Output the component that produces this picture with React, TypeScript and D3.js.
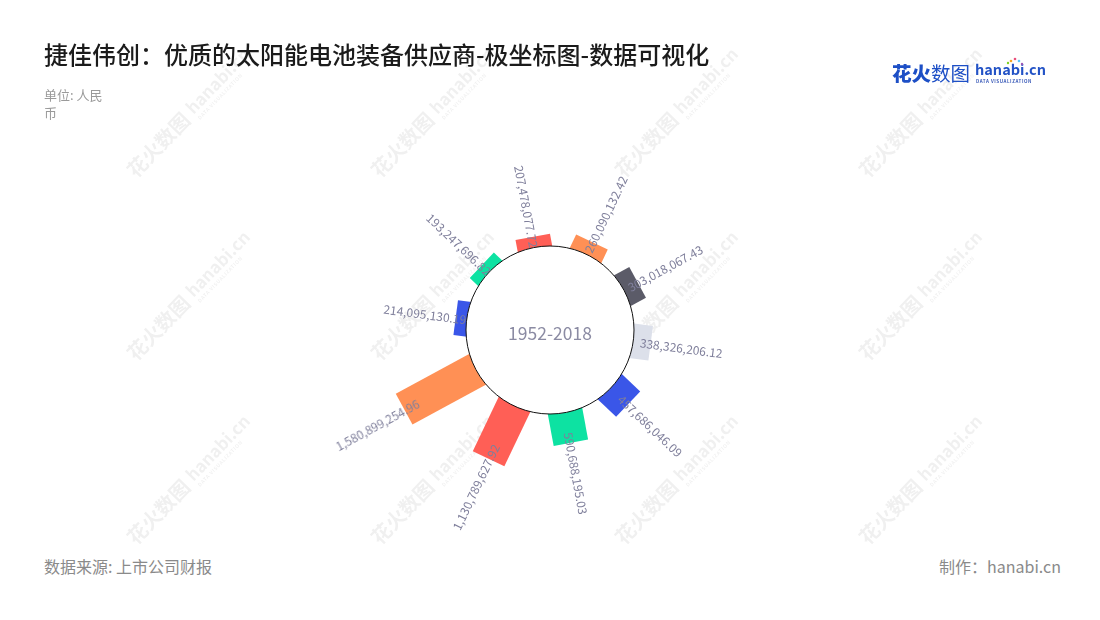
import React from "react";
import * as d3 from "d3";

const values: number[] = [
  207478077.72, 260090132.42, 303018067.43, 338326206.12, 457686046.09,
  590688195.03, 1130789627.92, 1580899254.96, 214095130.19, 193247696.82,
];
const barColors: string[] = [
  "#ff5f56", "#ff9055", "#5b5b68", "#dce0ea", "#3a56e8",
  "#0de2a2", "#ff5f56", "#ff9055", "#3a56e8", "#0de2a2",
];
const centerLabel = "1952-2018";
const title = "捷佳伟创：优质的太阳能电池装备供应商-极坐标图-数据可视化";
const unitLines = ["单位: 人民", "币"];
const sourceText = "数据来源: 上市公司财报";
const makerText = "制作：hanabi.cn";
const wmCols = [136, 380, 624, 868];
const wmRows = [179, 362, 546];

const W = 1100;
const H = 620;
const CX = 550;
const CY = 330;
const R0 = 84;
const R1 = 166;
const BAR_W = 35;
const FONT = "'Noto Sans CJK SC', 'Noto Sans', sans-serif";

export default function App() {
  const idx = values.map((_, i) => i);
  const angle = d3.scaleBand<number>().domain(idx).range([-28.5, 331.5]).padding(0);
  const radius = d3.scaleLinear().domain([0, d3.max(values) as number]).range([R0, R1]);
  const fmt = d3.format(",.2f");

  return (
    <svg
      width={W}
      height={H}
      style={{ position: "absolute", left: 0, top: 0, background: "#fff" }}
      fontFamily={FONT}
    >
      {/* watermarks */}
      <g fill="#000" opacity={0.06}>
        {wmRows.map((y) =>
          wmCols.map((x) => (
            <g key={`${x}-${y}`} transform={`translate(${x},${y}) rotate(-46)`}>
              <text x={0} y={0} fontSize={20} fontWeight={700}>花火数图</text>
              <text x={86} y={-3} fontSize={17} fontWeight={700}>hanabi.cn</text>
              <text x={87} y={5} fontSize={5} fontWeight={700} letterSpacing={0.6}>DATA VISUALIZATION</text>
            </g>
          ))
        )}
      </g>

      {/* title */}
      <text x={44} y={64} fontSize={24} fill="#1b1b1b" fontWeight={500}>{title}</text>
      {unitLines.map((t, i) => (
        <text key={i} x={44} y={100 + i * 18} fontSize={13} fill="#9a9a9a">{t}</text>
      ))}

      {/* logo */}
      <g>
        <text x={892} y={81} fontSize={19.5} fontWeight={900} fill="#1d4fc6">花火</text>
        <text x={931} y={81} fontSize={19.5} fontWeight={400} fill="#1d4fc6">数图</text>
        <text x={975} y={75} fontSize={14.5} fontWeight={700} fill="#2353c6">hanabi.cn</text>
        <text x={976} y={83} fontSize={4.5} fontWeight={700} fill="#3a5ab8" letterSpacing={0.55}>DATA VISUALIZATION</text>
        <circle cx={1011} cy={61} r={1.3} fill="#f5a623" />
        <circle cx={1015} cy={59} r={1.3} fill="#e94f7c" />
        <circle cx={1019} cy={61} r={1.3} fill="#5ac8fa" />
        <circle cx={1008} cy={63} r={1.2} fill="#7ed321" />
        <circle cx={1022} cy={64} r={1.2} fill="#9b59b6" />
      </g>

      {/* bars */}
      <g>
        {values.map((v, i) => {
          const a = (angle(i) as number) + angle.bandwidth() / 2;
          const r = radius(v);
          return (
            <g key={i} transform={`translate(${CX},${CY}) rotate(${a})`}>
              <rect x={-BAR_W / 2} y={-r} width={BAR_W} height={r - 60} fill={barColors[i]} />
            </g>
          );
        })}
      </g>

      {/* center circle */}
      <circle cx={CX} cy={CY} r={R0} fill="#fff" stroke="#111" strokeWidth={1} />
      <text
        x={CX}
        y={CY + 2}
        fontSize={17.5}
        fill="#8b8ba3"
        textAnchor="middle"
        dominantBaseline="central"
      >
        {centerLabel}
      </text>

      {/* labels */}
      <g>
        {values.map((v, i) => {
          const a = (angle(i) as number) + angle.bandwidth() / 2;
          const norm = ((a % 360) + 360) % 360;
          const lr = radius(v) + 31;
          const rad = (a * Math.PI) / 180;
          const x = CX + lr * Math.sin(rad);
          const y = CY - lr * Math.cos(rad);
          const rot = norm < 180 ? a - 90 : a + 90;
          return (
            <text
              key={i}
              transform={`translate(${x},${y}) rotate(${rot})`}
              fontSize={12}
              fill="#7f7f9b"
              textAnchor="middle"
              dominantBaseline="central"
            >
              {fmt(v)}
            </text>
          );
        })}
      </g>

      {/* footer */}
      <text x={44} y={573} fontSize={16} fill="#8a8a8a">{sourceText}</text>
      <text x={1061} y={573} fontSize={16} fill="#8a8a8a" textAnchor="end">{makerText}</text>
    </svg>
  );
}
